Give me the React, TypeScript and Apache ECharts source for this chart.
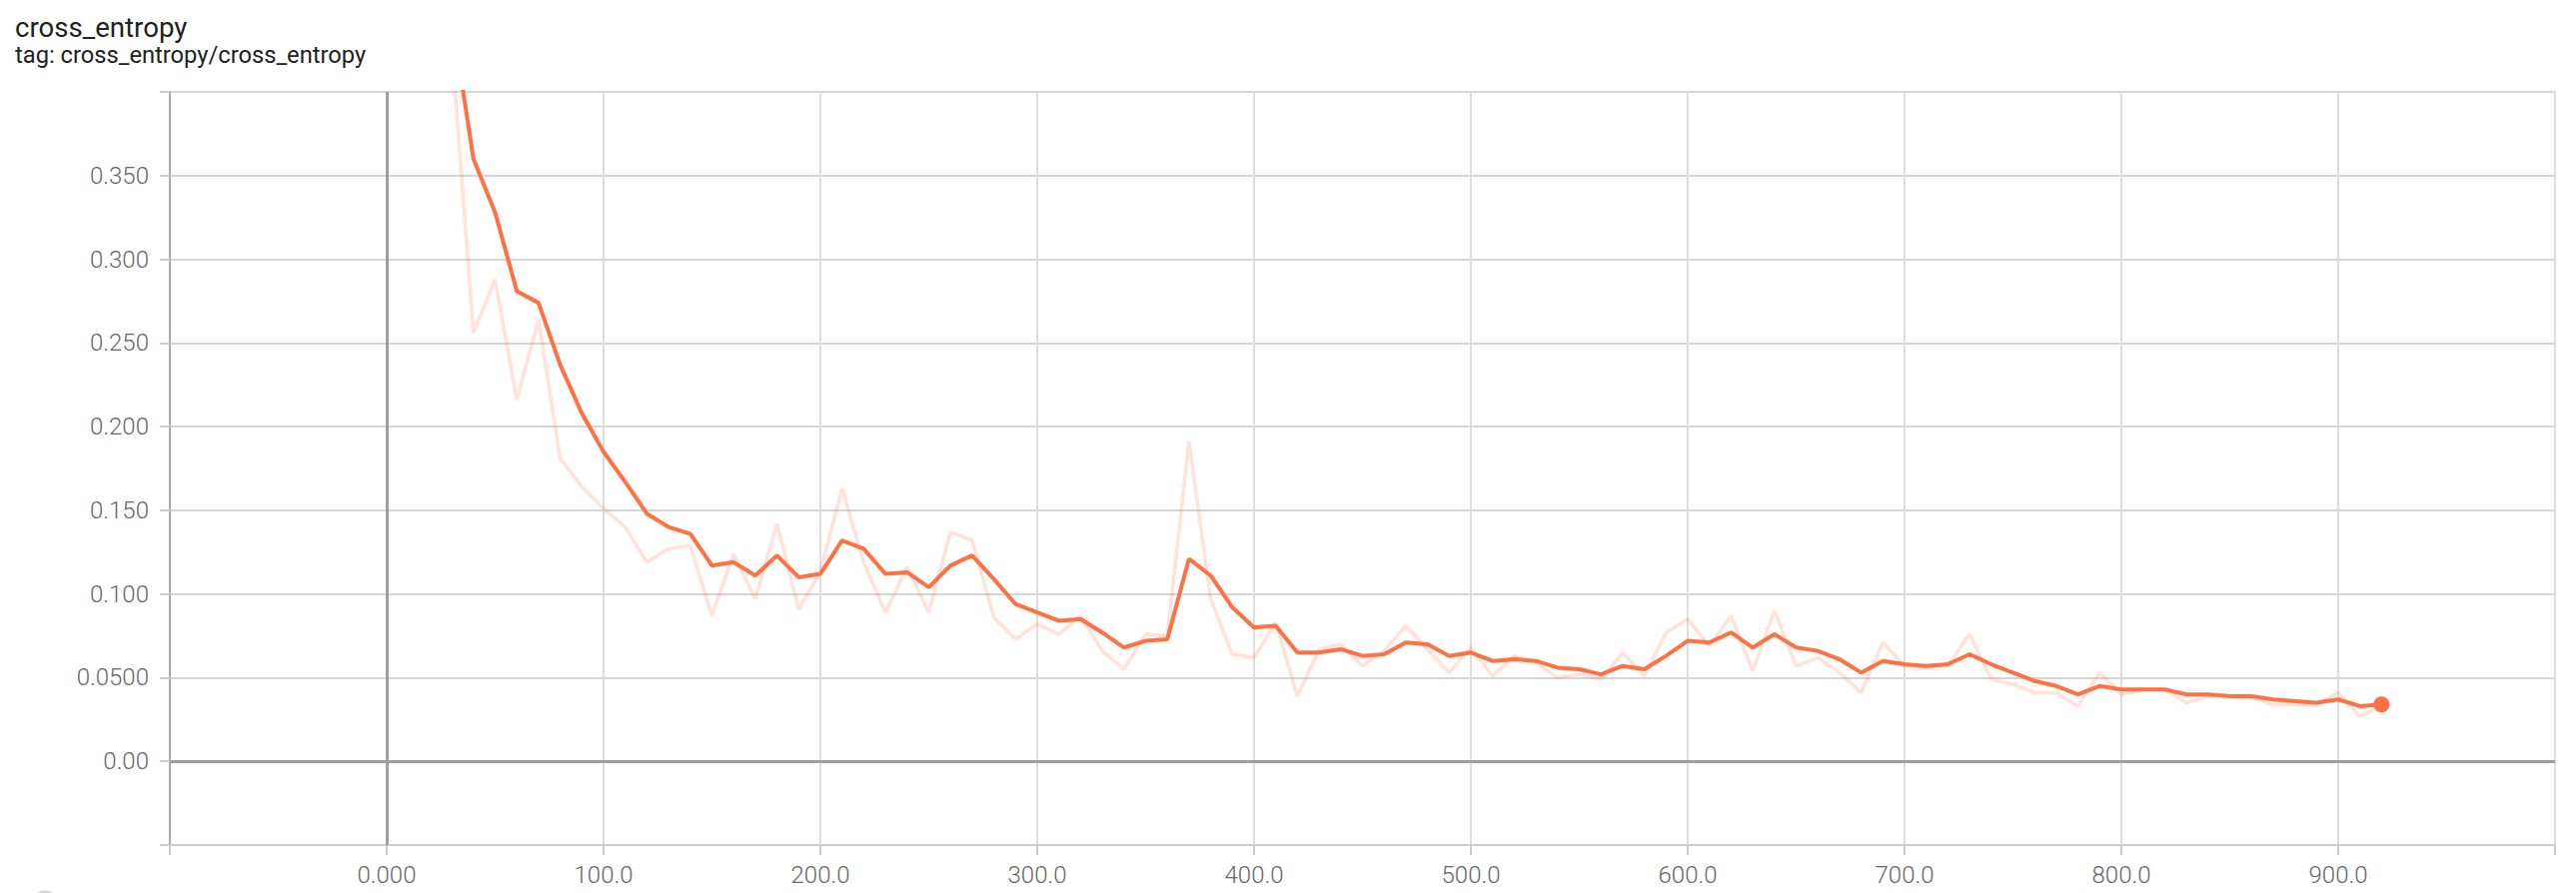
import { useEffect, useRef } from 'react';
import * as echarts from 'echarts';

const steps = [
  0, 10, 20, 30, 40, 50, 60, 70, 80, 90,
  100, 110, 120, 130, 140, 150, 160, 170, 180, 190,
  200, 210, 220, 230, 240, 250, 260, 270, 280, 290,
  300, 310, 320, 330, 340, 350, 360, 370, 380, 390,
  400, 410, 420, 430, 440, 450, 460, 470, 480, 490,
  500, 510, 520, 530, 540, 550, 560, 570, 580, 590,
  600, 610, 620, 630, 640, 650, 660, 670, 680, 690,
  700, 710, 720, 730, 740, 750, 760, 770, 780, 790,
  800, 810, 820, 830, 840, 850, 860, 870, 880, 890,
  900, 910, 920,
];

const rawLoss = [
  0.700, 0.520, 0.470, 0.427, 0.256, 0.288, 0.216, 0.264, 0.181, 0.164,
  0.151, 0.140, 0.119, 0.127, 0.129, 0.087, 0.124, 0.097, 0.142, 0.091,
  0.113, 0.163, 0.119, 0.089, 0.116, 0.089, 0.137, 0.132, 0.086, 0.073,
  0.082, 0.076, 0.087, 0.066, 0.055, 0.076, 0.075, 0.191, 0.097, 0.064,
  0.062, 0.083, 0.039, 0.067, 0.070, 0.057, 0.066, 0.081, 0.067, 0.053,
  0.068, 0.051, 0.063, 0.059, 0.050, 0.052, 0.049, 0.065, 0.051, 0.077,
  0.085, 0.069, 0.087, 0.054, 0.090, 0.057, 0.062, 0.053, 0.041, 0.071,
  0.057, 0.056, 0.057, 0.076, 0.049, 0.046, 0.041, 0.041, 0.033, 0.053,
  0.040, 0.043, 0.043, 0.035, 0.039, 0.039, 0.038, 0.034, 0.034, 0.034,
  0.041, 0.027, 0.033,
];

const smoothedLoss = [
  0.700, 0.590, 0.457, 0.445, 0.360, 0.328, 0.281, 0.274, 0.237, 0.208,
  0.185, 0.167, 0.148, 0.140, 0.136, 0.117, 0.119, 0.111, 0.123, 0.110,
  0.112, 0.132, 0.127, 0.112, 0.113, 0.104, 0.117, 0.123, 0.109, 0.094,
  0.089, 0.084, 0.085, 0.077, 0.068, 0.072, 0.073, 0.121, 0.111, 0.092,
  0.080, 0.081, 0.065, 0.065, 0.067, 0.063, 0.064, 0.071, 0.070, 0.063,
  0.065, 0.060, 0.061, 0.060, 0.056, 0.055, 0.052, 0.057, 0.055, 0.063,
  0.072, 0.071, 0.077, 0.068, 0.076, 0.068, 0.066, 0.061, 0.053, 0.060,
  0.058, 0.057, 0.058, 0.064, 0.058, 0.053, 0.048, 0.045, 0.040, 0.045,
  0.043, 0.043, 0.043, 0.040, 0.040, 0.039, 0.039, 0.037, 0.036, 0.035,
  0.037, 0.033, 0.034,
];

const xTickValues = [0, 100, 200, 300, 400, 500, 600, 700, 800, 900];
const xTickLabels = ['0.000', '100.0', '200.0', '300.0', '400.0', '500.0', '600.0', '700.0', '800.0', '900.0'];
const yTickValues = [0, 0.05, 0.1, 0.15, 0.2, 0.25, 0.3, 0.35];
const yTickLabels = ['0.00', '0.0500', '0.100', '0.150', '0.200', '0.250', '0.300', '0.350'];

const TITLE = 'cross_entropy';
const SUBTITLE = 'tag: cross_entropy/cross_entropy';

const ORANGE = '#ff7043';

function lookup(values: number[], labels: string[], v: number, tol: number) {
  for (let i = 0; i < values.length; i++) {
    if (Math.abs(values[i] - v) < tol) return labels[i];
  }
  return '';
}

export default function App() {
  const ref = useRef<HTMLDivElement>(null);

  useEffect(() => {
    if (!ref.current) return;
    const chart = echarts.init(ref.current, undefined, { renderer: 'svg' });
    const rawPairs = steps.map((s, i) => [s, rawLoss[i]]);
    const smoothPairs = steps.map((s, i) => [s, smoothedLoss[i]]);
    const last = steps.length - 1;

    const labelStyle = {
      fontFamily: 'Roboto, "Noto Sans", sans-serif',
      fontSize: 24,
      fontWeight: 300,
      color: '#666',
    };

    chart.setOption({
      animation: false,
      backgroundColor: '#ffffff',
      grid: { left: 170, right: 21, top: 92, bottom: 48, containLabel: false },
      graphic: [
        {
          type: 'text',
          left: 15,
          top: 13,
          style: {
            text: TITLE,
            fontFamily: 'Roboto, "Noto Sans", sans-serif',
            fontSize: 27.6,
            fill: '#212121',
          },
        },
        {
          type: 'text',
          left: 15,
          top: 43,
          style: {
            text: SUBTITLE,
            fontFamily: 'Roboto, "Noto Sans", sans-serif',
            fontSize: 23.7,
            fill: '#212121',
          },
        },
        {
          type: 'circle',
          shape: { cx: 45, cy: 906, r: 13 },
          style: { fill: 'none', stroke: '#d6d6d6', lineWidth: 3 },
        },
      ],
      xAxis: {
        type: 'value',
        min: -100,
        max: 1000,
        interval: 100,
        axisLine: { show: true, onZero: false, lineStyle: { color: '#cccccc', width: 2 } },
        axisTick: { show: true, length: 10, lineStyle: { color: '#cccccc', width: 2 } },
        splitLine: { show: true, lineStyle: { color: '#dddddd', width: 2 } },
        axisLabel: {
          ...labelStyle,
          margin: 18,
          showMinLabel: true,
          showMaxLabel: true,
          formatter: (v: number) => lookup(xTickValues, xTickLabels, v, 1e-6),
        },
      },
      yAxis: {
        type: 'value',
        min: -0.05,
        max: 0.4,
        interval: 0.05,
        axisLine: { show: true, onZero: false, lineStyle: { color: '#aaaaaa', width: 2 } },
        axisTick: { show: true, length: 10, lineStyle: { color: '#cccccc', width: 2 } },
        splitLine: { show: true, lineStyle: { color: '#d6d6d6', width: 2 } },
        axisLabel: {
          ...labelStyle,
          margin: 21,
          showMinLabel: true,
          showMaxLabel: true,
          formatter: (v: number) => lookup(yTickValues, yTickLabels, v, 1e-6),
        },
      },
      series: [
        {
          type: 'line',
          data: [],
          z: 1,
          silent: true,
          markLine: {
            silent: true,
            symbol: ['none', 'none'],
            label: { show: false },
            lineStyle: { color: '#9e9e9e', width: 3, type: 'solid' },
            data: [{ yAxis: 0 }, { xAxis: 0 }],
          },
        },
        {
          name: 'raw',
          type: 'line',
          data: rawPairs,
          z: 2,
          showSymbol: false,
          symbol: 'none',
          clip: true,
          lineStyle: { color: ORANGE, width: 3.6, opacity: 0.2 },
          itemStyle: { color: ORANGE },
        },
        {
          name: 'smoothed',
          type: 'line',
          data: smoothPairs,
          z: 3,
          showSymbol: false,
          symbol: 'none',
          clip: true,
          lineStyle: { color: ORANGE, width: 4 },
          itemStyle: { color: ORANGE },
        },
        {
          name: 'last',
          type: 'scatter',
          z: 4,
          data: [[steps[last], smoothedLoss[last]]],
          symbolSize: 16,
          itemStyle: { color: ORANGE, opacity: 1 },
        },
      ],
    });

    return () => {
      chart.dispose();
    };
  }, []);

  return (
    <div
      ref={ref}
      style={{ position: 'fixed', left: 0, top: 0, width: 2578, height: 894, background: '#fff' }}
    />
  );
}
